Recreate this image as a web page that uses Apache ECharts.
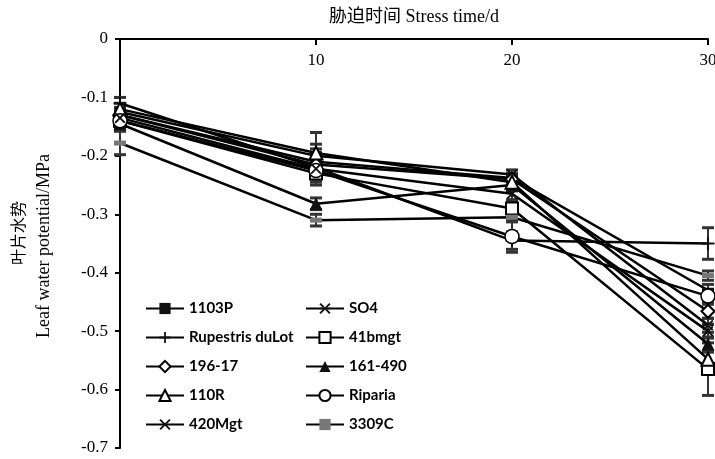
<!DOCTYPE html>
<html><head><meta charset="utf-8">
<script src="https://cdn.jsdelivr.net/npm/echarts@6/dist/echarts.min.js"></script>
<style>html,body{margin:0;padding:0;background:#fff}#c{width:715px;height:459px}</style>
</head><body><div id="c"></div>
<script>
const days = [0, 10, 20, 30];
const seriesNames = ['1103P','SO4','Rupestris duLot','41bmgt','196-17','161-490','110R','Riparia','420Mgt','3309C'];
const v1103P     = [-0.130, -0.210, -0.238, -0.430];
const vSO4       = [-0.125, -0.200, -0.232, -0.490];
const vRupestris = [-0.110, -0.220, -0.345, -0.350];
const v41bmgt    = [-0.140, -0.230, -0.290, -0.565];
const v19617     = [-0.130, -0.215, -0.240, -0.466];
const v161490    = [-0.145, -0.282, -0.250, -0.522];
const v110R      = [-0.120, -0.195, -0.245, -0.548];
const vRiparia   = [-0.140, -0.225, -0.338, -0.440];
const v420Mgt    = [-0.135, -0.222, -0.265, -0.500];
const v3309C     = [-0.178, -0.310, -0.305, -0.405];
// error (half-width) arrays
const e1103P     = [0.008, 0.015, 0.008, 0.010];
const eSO4       = [0.008, 0.012, 0.008, 0.012];
const eRupestris = [0.010, 0.015, 0.015, 0.027];
const e41bmgt    = [0.015, 0.015, 0.012, 0.045];
const e19617     = [0.010, 0.035, 0.010, 0.012];
const e161490    = [0.010, 0.010, 0.010, 0.012];
const e110R      = [0.010, 0.035, 0.010, 0.012];
const eRiparia   = [0.010, 0.015, 0.027, 0.010];
const e420Mgt    = [0.010, 0.015, 0.010, 0.012];
const e3309C     = [0.020, 0.010, 0.008, 0.008];
const yTicks = ['0','-0.1','-0.2','-0.3','-0.4','-0.5','-0.6','-0.7'];

const values = [v1103P,vSO4,vRupestris,v41bmgt,v19617,v161490,v110R,vRiparia,v420Mgt,v3309C];
const errors = [e1103P,eSO4,eRupestris,e41bmgt,e19617,e161490,e110R,eRiparia,e420Mgt,e3309C];

const PLUS = 'path://M4.2,0h1.6v4.2h4.2v1.6h-4.2v4.2h-1.6v-4.2h-4.2v-1.6h4.2z';
const XS = 'path://M1.2,0L5,3.8L8.8,0L10,1.2L6.2,5L10,8.8L8.8,10L5,6.2L1.2,10L0,8.8L3.8,5L0,1.2Z';
const AST = 'path://M1.2,0L5,3.8L8.8,0L10,1.2L6.2,5L10,8.8L8.8,10L5,6.2L1.2,10L0,8.8L3.8,5L0,1.2Z M0,4.3L0,5.7L10,5.7L10,4.3Z';
const styles = [
  {symbol:'rect', size:[12,5], fill:'#111'},
  {symbol:AST, size:11, fill:'#111'},
  {symbol:PLUS, size:13, fill:'#111'},
  {symbol:'rect', size:12, fill:'#fff', border:2},
  {symbol:'diamond', size:13, fill:'#fff', border:2},
  {symbol:'triangle', size:13, fill:'#111'},
  {symbol:'triangle', size:13, fill:'#fff', border:2},
  {symbol:'circle', size:14, fill:'#fff', border:1.5},
  {symbol:XS, size:11, fill:'#111'},
  {symbol:'rect', size:[12,5], fill:'#777'}
];

const series = [];
seriesNames.forEach((n,i)=>{
  const st = styles[i];
  series.push({
    name:n, type:'line', data: days.map((d,j)=>[d, values[i][j]]),
    symbol: st.symbol, symbolSize: st.size, showAllSymbol:true,
    lineStyle:{color:'#000', width:2.5},
    itemStyle:{color: st.fill, borderColor: st.border ? '#000' : st.fill, borderWidth: st.border||0},
    z: 3
  });
});
const errData = [];
values.forEach((v,i)=>v.forEach((val,j)=>errData.push([days[j], val, errors[i][j]])));
series.push({
  type:'custom', silent:true, z:2,
  data: errData,
  renderItem: function(params, api){
    const x = api.value(0), y = api.value(1), e = api.value(2);
    const top = api.coord([x, y + e]);
    const bot = api.coord([x, y - e]);
    const w = 6;
    return {type:'group', children:[
      {type:'line', shape:{x1:top[0],y1:top[1],x2:bot[0],y2:bot[1]}, style:{stroke:'#333', lineWidth:2}},
      {type:'line', shape:{x1:top[0]-w,y1:top[1],x2:top[0]+w,y2:top[1]}, style:{stroke:'#333', lineWidth:3}},
      {type:'line', shape:{x1:bot[0]-w,y1:bot[1],x2:bot[0]+w,y2:bot[1]}, style:{stroke:'#333', lineWidth:3}}
    ]};
  }
});

const legendText = {fontFamily:'Lato', fontWeight:'bold', fontSize:15, color:'#000'};
const chart = echarts.init(document.getElementById('c'), null, {renderer:'canvas'});
chart.setOption({
  animation:false,
  backgroundColor:'#fff',
  grid:{left:120, right:7, top:39, bottom:11, containLabel:false, outerBoundsMode:'none'},
  xAxis:{
    type:'value', position:'top', min:0, max:30, interval:10,
    name:'胁迫时间 Stress time/d', nameLocation:'middle', nameGap:13,
    nameTextStyle:{fontFamily:'Liberation Serif, Noto Sans CJK SC', fontSize:18, color:'#000', verticalAlign:'bottom'},
    axisLine:{show:true, lineStyle:{color:'#000', width:2}},
    axisTick:{show:true, inside:true, length:6, lineStyle:{color:'#000', width:2}},
    axisLabel:{inside:true, showMinLabel:false, margin:13, fontFamily:'Liberation Serif', fontSize:17, color:'#000'},
    splitLine:{show:false}
  },
  yAxis:{
    type:'value', min:-0.7, max:0, interval:0.1,
    axisLine:{show:true, onZero:false, lineStyle:{color:'#000', width:2}},
    axisTick:{show:true, length:5, lineStyle:{color:'#000', width:2}},
    axisLabel:{margin:12, fontFamily:'Liberation Serif', fontSize:17, color:'#000',
      formatter:function(v){ const k = Math.round(-v*10); return yTicks[k] !== undefined ? yTicks[k] : String(v); }},
    splitLine:{show:false}
  },
  graphic:[
    {type:'text', x:18, y:233, rotation:Math.PI/2,
     style:{text:'叶片水势', fontFamily:'Noto Sans CJK SC', fontSize:16, fill:'#000', align:'center', verticalAlign:'middle'}},
    {type:'text', x:44, y:246, rotation:Math.PI/2,
     style:{text:'Leaf water potential/MPa', fontFamily:'Liberation Serif', fontSize:18, fill:'#000', align:'center', verticalAlign:'middle'}}
  ],
  legend:[
    {data:[0,2,4,6,8].map(i=>seriesNames[i]), orient:'vertical', left:140, top:296,
     itemWidth:38, itemHeight:14, itemGap:14, textStyle:legendText},
    {data:[1,3,5,7,9].map(i=>seriesNames[i]), orient:'vertical', left:300, top:296,
     itemWidth:38, itemHeight:14, itemGap:14, textStyle:legendText}
  ],
  series: series
});
</script></body></html>
